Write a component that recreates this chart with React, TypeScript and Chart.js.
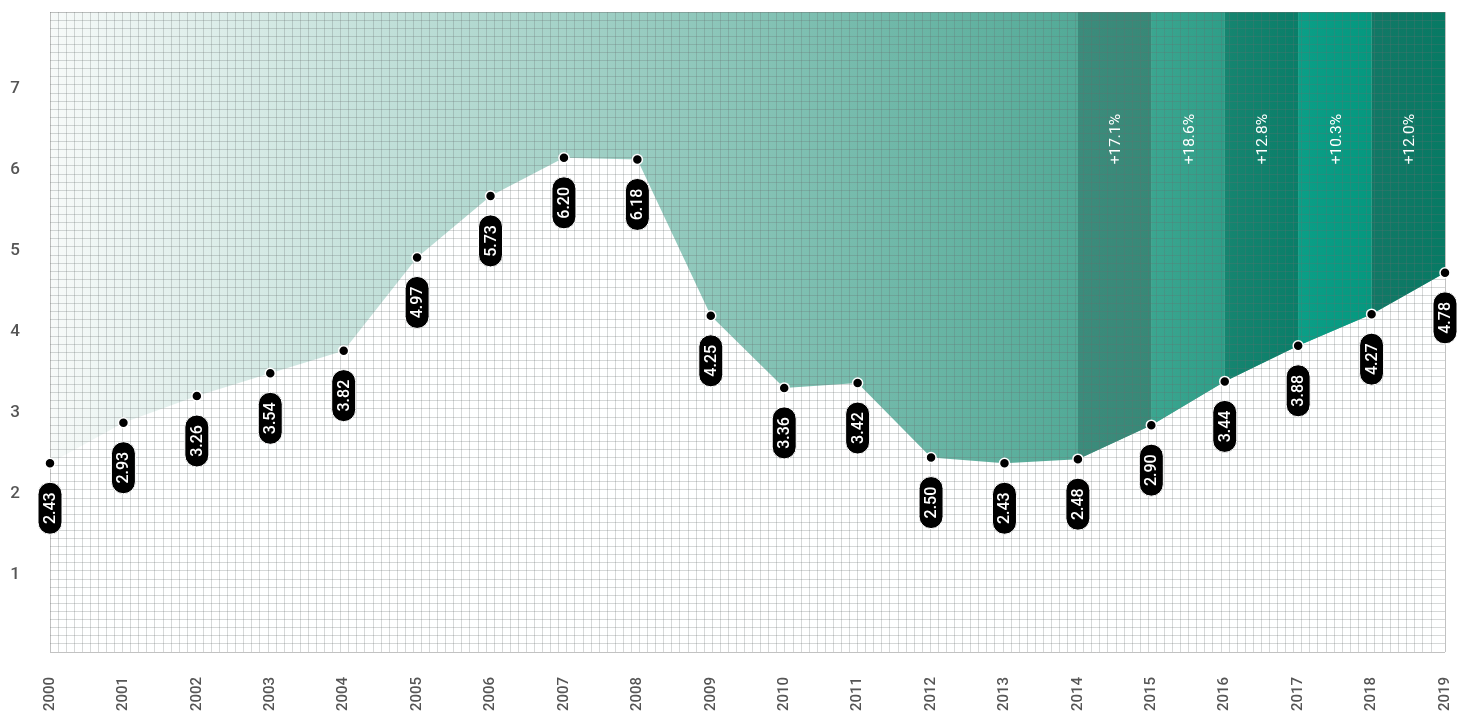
import { useEffect, useRef } from 'react';
import { Chart, registerables } from 'chart.js';

Chart.register(...registerables);

const YEARS = ['2000', '2001', '2002', '2003', '2004', '2005', '2006', '2007', '2008', '2009', '2010', '2011', '2012', '2013', '2014', '2015', '2016', '2017', '2018', '2019'];
const VALUES = [2.43, 2.93, 3.26, 3.54, 3.82, 4.97, 5.73, 6.20, 6.18, 4.25, 3.36, 3.42, 2.50, 2.43, 2.48, 2.90, 3.44, 3.88, 4.27, 4.78];
const GROWTH_START_YEAR = '2014';
const GROWTH_LABELS = ['+17.1%', '+18.6%', '+12.8%', '+10.3%', '+12.0%'];
const Y_TICK_LABELS = [1, 2, 3, 4, 5, 6, 7];

const Y_MIN = 0.1;
const Y_MAX = 8;
const GRID_STEP_Y = 0.1;
const GRID_STEP_X = 0.11;
const GROWTH_LABEL_Y = 6.43;

const BAND_COLORS: [string, string][] = [
  ['#3c8c7c', '#388877'],
  ['#3ba690', '#2e9e88'],
  ['#168570', '#0a7e69'],
  ['#0b9f87', '#05987f'],
  ['#127866', '#077a64'],
];

const FONT = "'Roboto', sans-serif";

function pill(ctx: CanvasRenderingContext2D, cx: number, cy: number, w: number, h: number) {
  const r = w / 2;
  ctx.beginPath();
  ctx.moveTo(cx - r, cy - h / 2 + r);
  ctx.arc(cx, cy - h / 2 + r, r, Math.PI, 0);
  ctx.lineTo(cx + r, cy + h / 2 - r);
  ctx.arc(cx, cy + h / 2 - r, r, 0, Math.PI);
  ctx.closePath();
}

const labelsPlugin = {
  id: 'customLabels',
  afterDatasetsDraw(chart: any) {
    const ctx: CanvasRenderingContext2D = chart.ctx;
    const xs = chart.scales.x;
    const ys = chart.scales.y;
    const start = YEARS.indexOf(GROWTH_START_YEAR);
    ctx.save();
    ctx.fillStyle = '#ffffff';
    ctx.font = `400 15.5px ${FONT}`;
    ctx.textAlign = 'center';
    ctx.textBaseline = 'middle';
    GROWTH_LABELS.forEach((t, i) => {
      const x = xs.getPixelForValue(start + i + 0.5);
      const y = ys.getPixelForValue(GROWTH_LABEL_Y);
      ctx.save();
      ctx.translate(x + 2, y);
      ctx.rotate(-Math.PI / 2);
      ctx.fillText(t, 0, 0);
      ctx.restore();
    });
    ctx.restore();

    const meta = chart.getDatasetMeta(0);
    ctx.save();
    meta.data.forEach((pt: any, i: number) => {
      const cx = pt.x;
      const cy = pt.y + 45;
      pill(ctx, cx, cy, 24, 52);
      ctx.fillStyle = '#000000';
      ctx.fill();
      ctx.lineWidth = 1;
      ctx.strokeStyle = '#ffffff';
      ctx.stroke();
      ctx.save();
      ctx.translate(cx, cy);
      ctx.rotate(-Math.PI / 2);
      ctx.fillStyle = '#ffffff';
      ctx.font = `500 16px ${FONT}`;
      ctx.textAlign = 'center';
      ctx.textBaseline = 'middle';
      ctx.fillText(VALUES[i].toFixed(2), 0, 1);
      ctx.restore();
    });
    ctx.restore();
  },
};

export default function App() {
  const ref = useRef<HTMLCanvasElement>(null);

  useEffect(() => {
    document.body.style.margin = '0';
    const canvas = ref.current;
    if (!canvas) return;

    const points = VALUES.map((v, i) => ({ x: i, y: v }));
    const start = YEARS.indexOf(GROWTH_START_YEAR);

    const gridColor = (min: number, max: number) => (c: any) => {
      const v = c.tick ? c.tick.value : 0;
      if (Math.abs(v - min) < 1e-6 || Math.abs(v - max) < 1e-6) return 'rgba(110,110,110,0.42)';
      return 'rgba(105,110,110,0.27)';
    };

    const zeroPad = (s: any) => {
      s.paddingLeft = 0;
      s.paddingRight = 0;
      s.paddingTop = 0;
      s.paddingBottom = 0;
    };

    const bandDatasets = GROWTH_LABELS.map((_, k) => ({
      type: 'line' as const,
      data: [
        { x: start + k, y: VALUES[start + k] },
        { x: start + k + 1, y: VALUES[start + k + 1] },
      ],
      fill: 'end',
      borderWidth: 0,
      pointRadius: 0,
      order: k + 1,
      backgroundColor: (c: any) => {
        const ch = c.chart;
        if (!ch.chartArea) return BAND_COLORS[k][0];
        const xs = ch.scales.x;
        const g = ch.ctx.createLinearGradient(xs.getPixelForValue(start + k), 0, xs.getPixelForValue(start + k + 1), 0);
        g.addColorStop(0, BAND_COLORS[k][0]);
        g.addColorStop(1, BAND_COLORS[k][1]);
        return g;
      },
    }));

    const chart = new Chart(canvas, {
      type: 'line',
      data: {
        datasets: [
          {
            data: points,
            showLine: false,
            borderWidth: 0,
            pointRadius: 5,
            pointHoverRadius: 5,
            pointBackgroundColor: '#000000',
            pointBorderColor: '#ffffff',
            pointBorderWidth: 1.5,
            fill: false,
            order: 0,
            clip: false,
          },
          ...bandDatasets,
          {
            data: points,
            fill: 'end',
            borderWidth: 0,
            pointRadius: 0,
            order: 10,
            backgroundColor: (c: any) => {
              const ch = c.chart;
              if (!ch.chartArea) return '#a0ccc2';
              const xs = ch.scales.x;
              const g = ch.ctx.createLinearGradient(xs.getPixelForValue(0), 0, xs.getPixelForValue(start), 0);
              g.addColorStop(0, '#f7faf9');
              g.addColorStop(1, '#52aa97');
              return g;
            },
          },
        ] as any,
      },
      options: {
        responsive: false,
        animation: false,
        events: [],
        layout: { autoPadding: false, padding: { top: 12, right: 16, left: 0, bottom: 0 } } as any,
        plugins: {
          legend: { display: false },
          tooltip: { enabled: false },
          filler: { drawTime: 'beforeDraw' } as any,
        },
        scales: {
          x: {
            type: 'linear',
            position: 'bottom',
            min: 0,
            max: YEARS.length - 1,
            grid: { display: false, drawTicks: false },
            border: { display: false },
            ticks: {
              stepSize: 1,
              autoSkip: false,
              minRotation: 90,
              maxRotation: 90,
              padding: 25,
              color: '#555555',
              font: { family: FONT, size: 15, weight: '500' },
              callback: (v: any) => {
                const n = Number(v);
                return Number.isInteger(n) ? YEARS[n] : '';
              },
            },
            afterFit: (s: any) => { s.height = 61; zeroPad(s); },
          },
          xg: {
            type: 'linear',
            position: 'top',
            min: 0,
            max: YEARS.length - 1,
            grid: { color: gridColor(0, YEARS.length - 1), drawTicks: false, lineWidth: 1 },
            border: { display: false },
            ticks: { display: false, stepSize: GRID_STEP_X, autoSkip: false, padding: 0 },
            afterFit: (s: any) => { s.height = 0; zeroPad(s); },
          },
          y: {
            type: 'linear',
            min: Y_MIN,
            max: Y_MAX,
            grid: { color: gridColor(Y_MIN, Y_MAX), drawTicks: false, lineWidth: 1 },
            border: { display: false },
            ticks: {
              stepSize: GRID_STEP_Y,
              autoSkip: false,
              padding: 30,
              labelOffset: -4,
              color: '#555555',
              font: { family: FONT, size: 17, weight: '500' },
              callback: (v: any) => {
                const n = Math.round(Number(v) * 1000) / 1000;
                return Y_TICK_LABELS.includes(n) ? String(n) : '';
              },
            },
            afterFit: (s: any) => { s.width = 50; zeroPad(s); },
          },
        } as any,
      },
      plugins: [labelsPlugin],
    });

    return () => chart.destroy();
  }, []);

  return (
    <div style={{ width: 1461, height: 713 }}>
      <canvas ref={ref} width={1461} height={713} style={{ display: 'block' }} />
    </div>
  );
}
